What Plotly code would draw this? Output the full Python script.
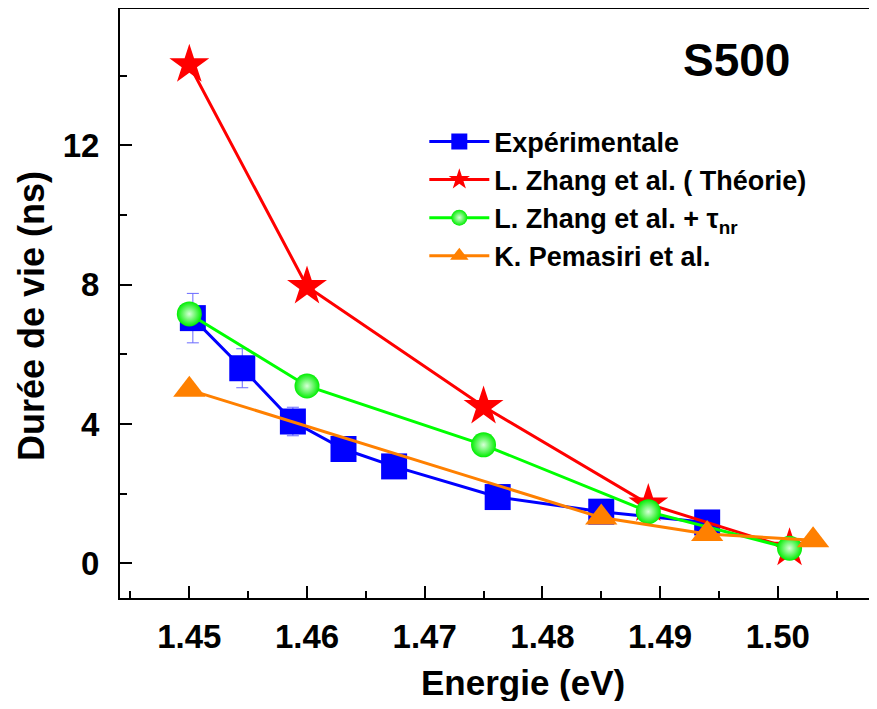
import plotly.graph_objects as go

# ---- data ----
exp_x = [1.4503, 1.4545, 1.4588, 1.4631, 1.4674, 1.4762, 1.4850, 1.4940]
exp_y = [7.04, 5.60, 4.07, 3.28, 2.78, 1.90, 1.48, 1.17]
exp_err = [0.71, 0.56, 0.41, 0.30, 0.25, 0.20, 0.15, 0.10]

zhang_x = [1.450, 1.460, 1.475, 1.489, 1.501]
zhang_y = [14.32, 7.95, 4.50, 1.70, 0.43]

nr_x = [1.450, 1.460, 1.475, 1.489, 1.501]
nr_y = [7.16, 5.09, 3.40, 1.48, 0.43]

pem_x = [1.450, 1.485, 1.494, 1.503]
pem_y = [4.98, 1.31, 0.84, 0.66]

x_ticks = [1.45, 1.46, 1.47, 1.48, 1.49, 1.50]
y_ticks = [0, 4, 8, 12]

FONT = "Liberation Sans"
TICKFONT = dict(family=FONT, size=33, color="black", weight="bold")

fig = go.Figure()

fig.add_trace(go.Scatter(
    x=exp_x, y=exp_y, mode="lines+markers", name="Expérimentale",
    line=dict(color="#0000ff", width=3),
    marker=dict(symbol="square", size=26, color="#0000ff"),
    error_y=dict(type="data", array=exp_err, visible=True,
                 color="#6a6aff", thickness=1, width=6),
))
fig.add_trace(go.Scatter(
    x=zhang_x, y=zhang_y, mode="lines+markers", name="L. Zhang et al. ( Théorie)",
    line=dict(color="#ff0000", width=3),
    marker=dict(symbol="star", size=30, color="#ff0000"),
))
fig.add_trace(go.Scatter(
    x=nr_x, y=nr_y, mode="lines+markers",
    name="L. Zhang et al. + τ<sub>nr</sub>",
    line=dict(color="#00ff00", width=3),
    marker=dict(symbol="circle", size=25, color="#00ee00",
                gradient=dict(type="radial", color="#d8ffd8")),
))
fig.add_trace(go.Scatter(
    x=pem_x, y=pem_y, mode="lines+markers", name="K. Pemasiri et al.",
    line=dict(color="#ff8000", width=3),
    marker=dict(symbol="triangle-up", size=28, color="#ff8000"),
))

fig.add_annotation(text="S500", x=0.814, y=0.914, xref="paper", yref="paper",
                   showarrow=False, font=dict(family=FONT, size=46, color="black", weight="bold"),
                   xanchor="center", yanchor="middle")
fig.add_annotation(text="Energie (eV)", x=0.532, y=-0.144, xref="paper", yref="paper",
                   showarrow=False, font=dict(family=FONT, size=35, color="black", weight="bold"),
                   xanchor="center", yanchor="middle")
fig.add_annotation(text="Durée de vie (ns)", x=-0.116, y=0.479, xref="paper", yref="paper",
                   showarrow=False, textangle=-90,
                   font=dict(family=FONT, size=36, color="black", weight="bold"),
                   xanchor="center", yanchor="middle")

# The page body has an 8px margin, so the figure is sized / offset to compensate.
fig.update_layout(
    width=869, height=693,
    margin=dict(l=112, r=0, t=1, b=103, autoexpand=False),
    paper_bgcolor="white", plot_bgcolor="white",
    font=dict(family=FONT, size=30, color="black", weight="bold"),
    showlegend=True,
    legend=dict(x=0.402, y=0.816, xanchor="left", yanchor="top",
                bgcolor="rgba(0,0,0,0)", borderwidth=0,
                font=dict(family=FONT, size=27, color="black", weight="bold"),
                itemwidth=60, tracegroupgap=0),
    xaxis=dict(range=[1.44411, 1.50843], tickvals=x_ticks,
               ticktext=[f"{v:.2f}" for v in x_ticks], tickfont=TICKFONT,
               automargin=False,
               showgrid=False, zeroline=False,
               showline=True, linecolor="black", linewidth=2, mirror=True,
               ticks="inside", ticklen=12, tickwidth=2, tickcolor="black",
               ticklabelstandoff=8,
               minor=dict(dtick=0.005, tick0=1.445, ticks="inside", ticklen=7,
                          tickwidth=2, tickcolor="black", showgrid=False)),
    yaxis=dict(range=[-1.0, 15.92], tickvals=y_ticks, tickfont=TICKFONT,
               automargin=False,
               showgrid=False, zeroline=False,
               showline=True, linecolor="black", linewidth=2, mirror=False,
               ticks="inside", ticklen=12, tickwidth=2, tickcolor="black",
               ticklabelstandoff=12,
               minor=dict(dtick=2, tick0=0, ticks="inside", ticklen=7,
                          tickwidth=2, tickcolor="black", showgrid=False)),
)

fig.write_html("out.html")
